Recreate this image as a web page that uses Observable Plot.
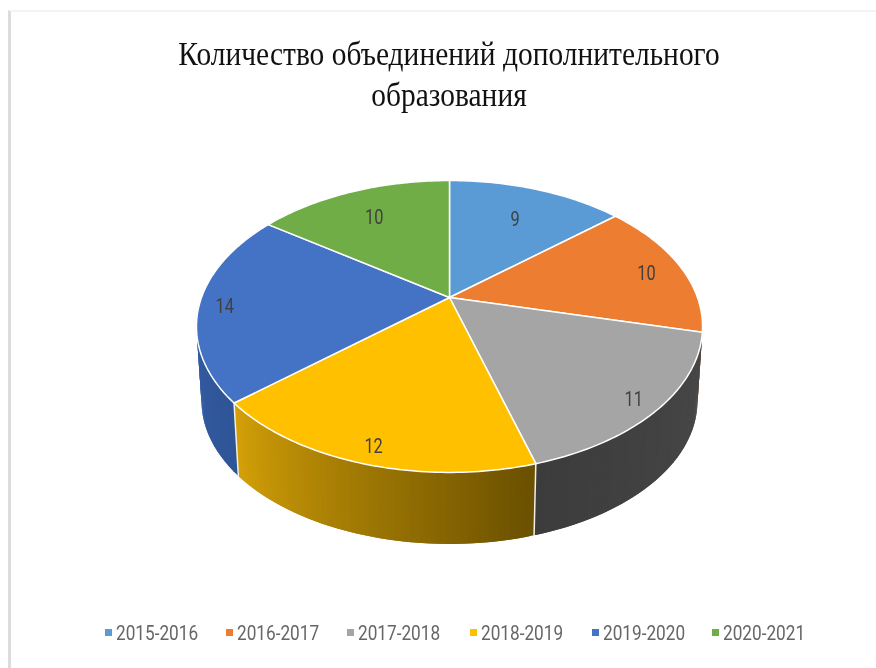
<!DOCTYPE html>
<html lang="ru">
<head>
<meta charset="utf-8">
<script src="https://cdn.jsdelivr.net/npm/d3@7"></script>
<script src="https://cdn.jsdelivr.net/npm/@observablehq/plot@0.6"></script>
<style>
  html, body { margin: 0; padding: 0; background: #fff; width: 876px; height: 668px; overflow: hidden; }
  #frame { position: absolute; left: 8px; top: 10px; right: 0; bottom: 0; border-left: 3px solid #dcdcdc; border-top: 2px solid #f3f3f3; }
  #page { position: relative; width: 876px; height: 668px; filter: blur(0.5px); }
  #title { position: absolute; left: 0; top: 34px; width: 898px; text-align: center; color: #111;
           font: 33px/41px "Liberation Serif", serif; transform: scaleX(.893); transform-origin: 449px 0; }
  #chart { position: absolute; left: 0; top: 130px; }
  #legend { position: absolute; left: 0; top: 618px; width: 876px; height: 30px; font: 20px/30px Roboto, sans-serif; color: #666; }
  .item { position: absolute; top: 0; white-space: nowrap; transform: scaleX(.86); transform-origin: 0 0; }
  .swatch { position: absolute; top: 11px; width: 7px; height: 7px; }
</style>
</head>
<body>
<div id="page">
  <div id="frame"></div>
  <div id="title"></div>
  <div id="chart"></div>
  <div id="legend"></div>
</div>
<script>
const titleLines = ["Количество объединений дополнительного", "образования"];
const years = ["2015-2016", "2016-2017", "2017-2018", "2018-2019", "2019-2020", "2020-2021"];
const counts = [9, 10, 11, 12, 14, 10];
const topColors = ["#5b9bd5", "#ed7d31", "#a5a5a5", "#ffc000", "#4472c4", "#70ad47"];
const sideColorsStart = ["#2f6ea8", "#9e4f1c", "#484848", "#6b5000", "#2f5597", "#4d7a30"];
const sideColorsEnd = ["#2f6ea8", "#9e4f1c", "#3c3c3c", "#d6a208", "#3c69b3", "#4d7a30"];
const labelReach = [0.72, 0.85, 0.9, 0.9, 0.9, 0.75];
const legendLeft = [105, 226, 347, 470, 592, 712];

// Perspective view of the disc
const view = {cx: 449, cy: 297, a: 248, b: 140.2, k: 0.1986, lowerCy: 372, lowerScale: 0.98};
function project(angle, r, lower) {
  const u = Math.sin(angle) * r, v = -Math.cos(angle) * r;
  const w = 1 - view.k * v;
  const s = lower ? view.lowerScale : 1;
  return {x: view.cx + s * view.a * u / w, y: (lower ? view.lowerCy : view.cy) + s * view.b * v / w};
}

const arcs = d3.pie().sort(null).startAngle(0).endAngle(2 * Math.PI)(counts);
const STEP = Math.PI / 180;

const topFace = [], sideFace = [], seams = [], labels = [];
arcs.forEach((arc, i) => {
  const steps = Math.max(2, Math.ceil((arc.endAngle - arc.startAngle) / STEP));
  const angleAt = j => arc.startAngle + (arc.endAngle - arc.startAngle) * Math.min(j, steps) / steps;
  const tint = d3.interpolateRgb(sideColorsStart[i], sideColorsEnd[i]);

  topFace.push({slice: i, color: topColors[i], ...project(0, 0, false)});
  for (let j = 0; j <= steps; j++) topFace.push({slice: i, color: topColors[i], ...project(angleAt(j), 1, false)});
  topFace.push({slice: i, color: topColors[i], ...project(0, 0, false)});

  // pieces are painted from the end of the slice backwards, each overlapping its neighbour
  for (let j = steps - 1; j >= 0; j--) {
    const key = `${i}-${j}`, color = tint((j + 0.5) / steps);
    const a0 = angleAt(j), a1 = angleAt(j + 2);
    [project(a0, 1, false), project(a1, 1, false), project(a1, 1, true), project(a0, 1, true)]
      .forEach(p => sideFace.push({key, color, ...p}));
  }
  // only the boundaries well inside the front are seen between two side pieces
  if (Math.cos(arc.startAngle) < -0.5) {
    seams.push({key: i, ...project(arc.startAngle, 1, false)}, {key: i, ...project(arc.startAngle, 1, true)});
  }
  const mid = (arc.startAngle + arc.endAngle) / 2;
  labels.push({value: arc.value, ...project(mid, labelReach[i], false)});
});

const chart = Plot.plot({
  width: 876,
  height: 480,
  margin: 0,
  x: {domain: [0, 876], range: [0, 876], axis: null},
  y: {domain: [130, 610], range: [0, 480], axis: null},
  style: {background: "transparent"},
  marks: [
    Plot.line(sideFace, {x: "x", y: "y", z: "key", fill: "color", stroke: "none", curve: "linear-closed"}),
    Plot.line(seams, {x: "x", y: "y", z: "key", stroke: "#f2efe6", strokeWidth: 1.5}),
    Plot.line(topFace, {x: "x", y: "y", z: "slice", fill: "color", stroke: "#ffffff", strokeWidth: 1.5, strokeLinejoin: "round"}),
    Plot.text(labels, {x: "x", y: "y", dy: 3, text: "value", fill: "#404040", fontSize: 20, fontFamily: "Roboto, sans-serif"})
  ]
});
// the data labels use a condensed face: narrow the glyphs in place
d3.select(chart).selectAll("text").filter(function () { return this.textContent.trim() !== ""; })
  .each(function () {
    const t = this.getAttribute("transform") || "";
    this.setAttribute("transform", t + " scale(0.82,1)");
  });
document.getElementById("chart").append(chart);

document.getElementById("title").innerHTML = titleLines.join("<br>");

const legend = document.getElementById("legend");
years.forEach((year, i) => {
  const sw = document.createElement("span");
  sw.className = "swatch";
  sw.style.left = legendLeft[i] + "px";
  sw.style.background = topColors[i];
  const txt = document.createElement("span");
  txt.className = "item";
  txt.style.left = (legendLeft[i] + 11) + "px";
  txt.textContent = year;
  legend.append(sw, txt);
});
</script>
</body>
</html>
